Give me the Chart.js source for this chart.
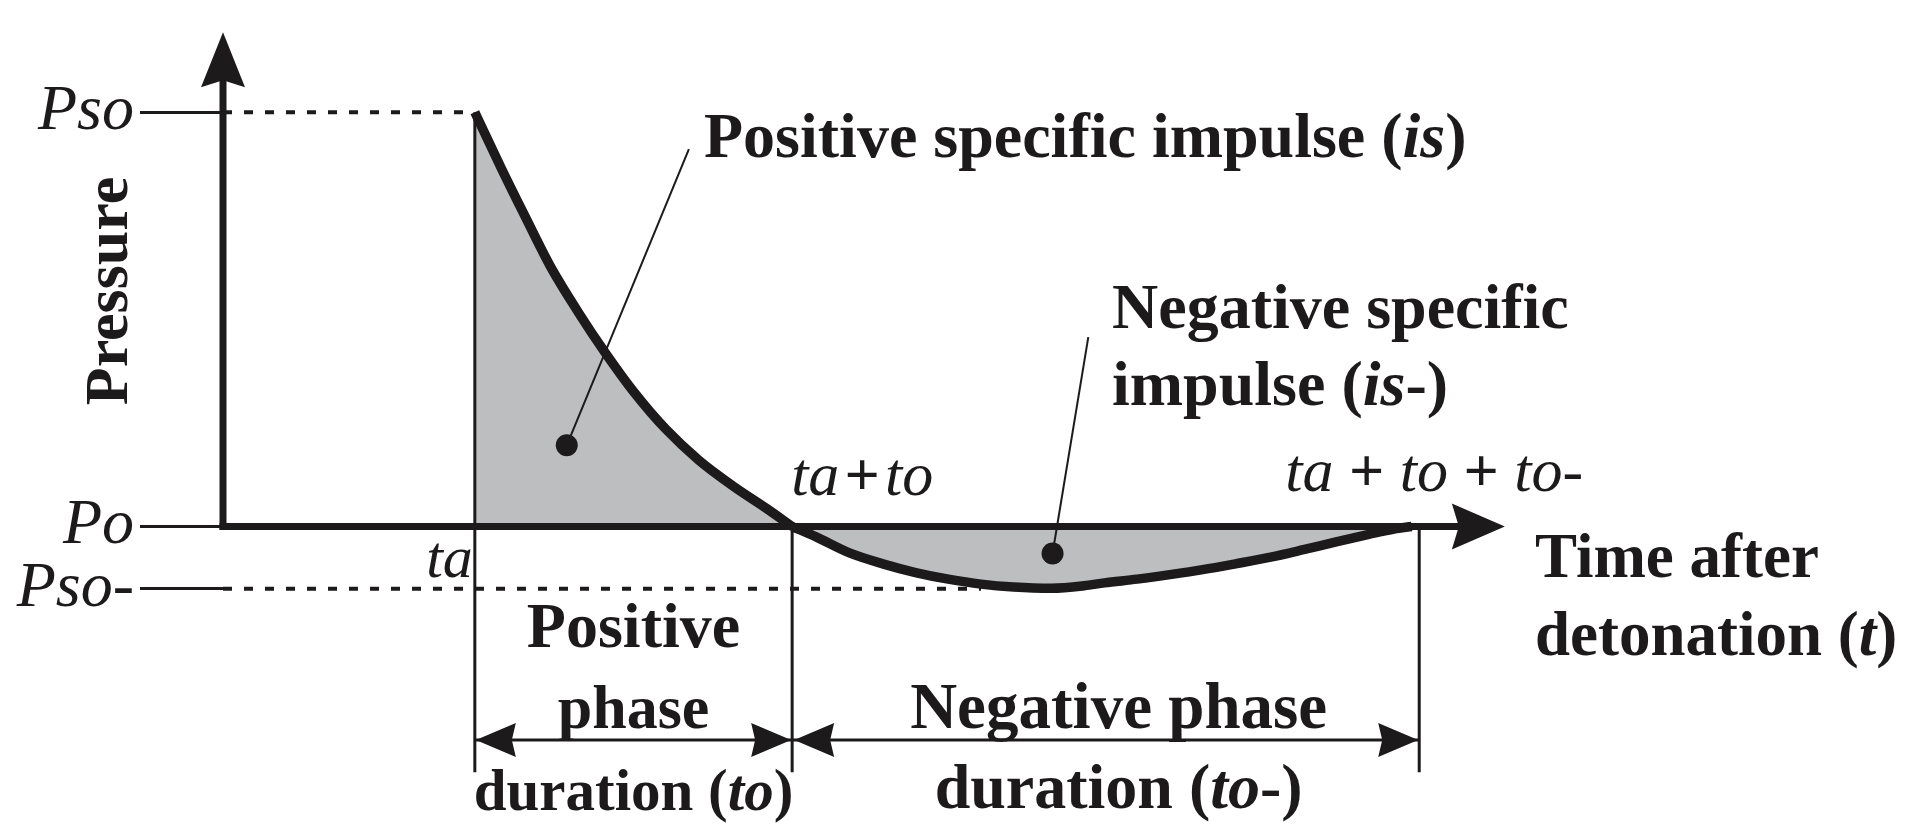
<!DOCTYPE html>
<html>
<head>
<meta charset="utf-8">
<script src="https://cdn.jsdelivr.net/npm/chart.js@4.4.1/dist/chart.umd.min.js"></script>
<style>
  html, body { margin: 0; padding: 0; background: #fff; }
  #wrap { width: 1915px; height: 835px; position: relative; }
</style>
</head>
<body>
<div id="wrap"><canvas id="blastChart"></canvas></div>
<script>
// times (ms-like units): arrival, end of positive phase, end of negative phase
const tA = 10, tPos = 22.6, tEnd = 47.5;
// pressures: peak overpressure, ambient, peak underpressure
const pSo = 100, pO = 0, pSoNeg = -15;

// positive phase curve
const posT = [10, 11.05, 12, 13, 14.1, 15.15, 16.3, 17.6, 18.9, 20.3, 21.6, 22.6];
const posP = [100, 86.5, 74.8, 62.8, 51.8, 42.2, 32.6, 23.4, 16.0, 9.6, 4.3, 0];
// negative phase curve
const negT = [22.6, 23.55, 24.85, 26.2, 27.5, 28.8, 30.1, 31.4, 32.9, 34.2, 35.0, 36.3, 37.6, 38.9, 40.2, 41.6, 42.9, 44.2, 45.5, 46.5, 47.2];
const negP = [0, -2.5, -6.3, -9.0, -11.1, -12.7, -13.9, -14.6, -14.9, -14.3, -13.6, -12.7, -11.6, -10.4, -9.0, -7.4, -5.6, -3.7, -1.9, -0.6, 0];

// y axis tick marks
const yTicks = [pSo, pO, pSoNeg];
const yTickLabels = ['Pso', 'Po', 'Pso-'];

// axis extents, dimension lines, leader lines
const xArrowBase = 49.1, xArrowTip = 50.9;
const yArrowBase = 107.5, yArrowTip = 119.3;
const negDotEnd = 30.1;
const dimY = -51.5, guideBottom = -59.3;
const posLeader = [{x: 13.65, y: 19.6}, {x: 18.5, y: 91.1}];
const negLeader = [{x: 32.94, y: -6.5}, {x: 34.36, y: 45.7}];

const xMin = 0, xMax = 66.75, yMin = -71.8, yMax = 124.44;

const ink = '#1c1a1b';
const shade = '#bcbec0';
const serif = '"Liberation Serif", "Times New Roman", serif';

const seg = (x1, y1, x2, y2) => [{x: x1, y: y1}, {x: x2, y: y2}];
const lineSet = (data, width, extra) => Object.assign({
  data, borderColor: ink, borderWidth: width, pointRadius: 0,
  fill: false, clip: false, tension: 0, order: 1
}, extra);
const pts = (xs, ys) => xs.map((x, i) => ({x, y: ys[i]}));

function arrowHead(ctx, tx, ty, dx, dy, len, half, notch) {
  const px = -dy, py = dx;
  const bx = tx - dx * len, by = ty - dy * len;
  ctx.beginPath();
  ctx.moveTo(tx, ty);
  ctx.lineTo(bx + px * half, by + py * half);
  ctx.lineTo(tx - dx * (len - notch), ty - dy * (len - notch));
  ctx.lineTo(bx - px * half, by - py * half);
  ctx.closePath();
  ctx.fill();
}

function drawRuns(ctx, runs, x, y, align, size) {
  const fonts = runs.map(r => (r.i ? 'italic ' : '') + (r.b === 0 ? '' : 'bold ') + size + 'px ' + serif);
  const widths = runs.map((r, k) => { ctx.font = fonts[k]; return ctx.measureText(r.t).width; });
  const total = widths.reduce((a, b) => a + b, 0);
  let cx = align === 'center' ? x - total / 2 : align === 'right' ? x - total : x;
  runs.forEach((r, k) => {
    ctx.font = fonts[k];
    ctx.fillText(r.t, cx, y);
    cx += widths[k];
  });
}

const decor = {
  id: 'decor',
  afterDraw(chart) {
    const ctx = chart.ctx;
    const X = v => chart.scales.x.getPixelForValue(v);
    const Y = v => chart.scales.y.getPixelForValue(v);
    ctx.save();
    ctx.fillStyle = ink;
    ctx.textAlign = 'left';
    ctx.textBaseline = 'alphabetic';

    // axis arrows
    arrowHead(ctx, X(0), Y(yArrowTip), 0, -1, 55, 22, 7);
    arrowHead(ctx, X(xArrowTip), Y(pO), 1, 0, 53, 23, 7);
    // duration arrows
    const dy = Y(dimY);
    arrowHead(ctx, X(tA) + 1, dy, -1, 0, 40, 17, 4);
    arrowHead(ctx, X(tPos) - 1, dy, 1, 0, 40, 17, 4);
    arrowHead(ctx, X(tPos) + 2, dy, -1, 0, 40, 17, 4);
    arrowHead(ctx, X(tEnd) - 1, dy, 1, 0, 40, 17, 4);

    // axis title
    ctx.save();
    ctx.translate(127, 291);
    ctx.rotate(-Math.PI / 2);
    ctx.textAlign = 'center';
    ctx.font = 'bold 62px ' + serif;
    ctx.fillText('Pressure', 0, 0);
    ctx.restore();

    const L = 64;
    drawRuns(ctx, [{t: 'Positive specific impulse ('}, {t: 'is', i: 1}, {t: ')'}], 704, 157, 'left', L);
    drawRuns(ctx, [{t: 'Negative specific'}], 1112, 328, 'left', L);
    drawRuns(ctx, [{t: 'impulse ('}, {t: 'is', i: 1}, {t: '-)'}], 1112, 405, 'left', L);
    drawRuns(ctx, [{t: 'Time after'}], 1535, 577, 'left', 63);
    drawRuns(ctx, [{t: 'detonation ('}, {t: 't', i: 1}, {t: ')'}], 1535, 655, 'left', 63);

    const midPos = (X(tA) + X(tPos)) / 2;
    const midNeg = (X(tPos) + X(tEnd)) / 2 + 13;
    drawRuns(ctx, [{t: 'Positive'}], midPos, 647, 'center', L);
    drawRuns(ctx, [{t: 'phase'}], midPos, 728, 'center', 62);
    drawRuns(ctx, [{t: 'duration ('}, {t: 'to', i: 1}, {t: ')'}], midPos, 810, 'center', 59);
    drawRuns(ctx, [{t: 'Negative phase'}], midNeg, 728, 'center', 65);
    drawRuns(ctx, [{t: 'duration ('}, {t: 'to', i: 1}, {t: '-)'}], midNeg, 808, 'center', 64);

    // time marks
    drawRuns(ctx, [{t: 'ta', i: 1, b: 0}], X(tA) - 2, 577, 'right', 60);
    drawRuns(ctx, [{t: 'ta', i: 1, b: 0}, {t: '\u200A+\u200A'}, {t: 'to', i: 1, b: 0}], X(tPos) - 1, 495, 'left', 62);
    drawRuns(ctx, [{t: 'ta', i: 1, b: 0}, {t: ' + '}, {t: 'to', i: 1, b: 0}, {t: ' + '}, {t: 'to-', i: 1, b: 0}],
      X(tEnd) - 134, 491, 'left', 62);
    ctx.restore();
  }
};

const ctx = document.getElementById('blastChart').getContext('2d');
const blastChart = new Chart(ctx, {
  type: 'line',
  data: {
    datasets: [
      // axes
      lineSet(seg(0, pO, xArrowBase, pO), 7, {borderCapStyle: 'square', order: 0}),
      lineSet(seg(0, pO, 0, yArrowBase), 7, {borderCapStyle: 'square', order: 0}),
      // leader lines with dots
      lineSet(posLeader, 2, {pointRadius: [11, 0], pointBackgroundColor: ink, pointBorderWidth: 0}),
      lineSet(negLeader, 2, {pointRadius: [11, 0], pointBackgroundColor: ink, pointBorderWidth: 0}),
      // guide lines
      lineSet(seg(tA, pSo, tA, guideBottom), 3),
      lineSet(seg(tPos, pO, tPos, guideBottom), 3),
      lineSet(seg(tEnd, pO, tEnd, guideBottom), 3),
      // duration lines
      lineSet(seg(tA, dimY, tPos, dimY), 3),
      lineSet(seg(tPos, dimY, tEnd, dimY), 3),
      // dotted level lines
      lineSet(seg(0, pSo, tA, pSo), 4, {borderDash: [9, 12]}),
      lineSet(seg(0, pSoNeg, negDotEnd, pSoNeg), 4, {borderDash: [9, 12]}),
      // pressure curves
      lineSet(pts(posT, posP), 9.5, {fill: 'origin', backgroundColor: shade, cubicInterpolationMode: 'monotone', borderJoinStyle: 'round', order: 5}),
      lineSet(pts(negT, negP), 9.5, {fill: 'origin', backgroundColor: shade, cubicInterpolationMode: 'monotone', borderJoinStyle: 'round', order: 5})
    ]
  },
  options: {
    responsive: true,
    maintainAspectRatio: false,
    animation: false,
    layout: {padding: 0},
    plugins: {legend: {display: false}, tooltip: {enabled: false}},
    scales: {
      x: {type: 'linear', min: xMin, max: xMax, display: false},
      y: {
        type: 'linear', min: yMin, max: yMax, position: 'left',
        afterBuildTicks: s => { s.ticks = yTicks.map(v => ({value: v})); },
        afterFit: s => { s.width = 223; s.paddingTop = 0; s.paddingBottom = 0; },
        grid: {drawOnChartArea: false, drawTicks: true, tickLength: 83, tickWidth: 3, tickColor: ink},
        border: {display: false},
        ticks: {
          padding: 6, color: ink, autoSkip: false,
          font: {family: serif, size: 64, style: 'italic'},
          callback: (v, i) => yTickLabels[i]
        }
      }
    }
  },
  plugins: [decor]
});
</script>
</body>
</html>
